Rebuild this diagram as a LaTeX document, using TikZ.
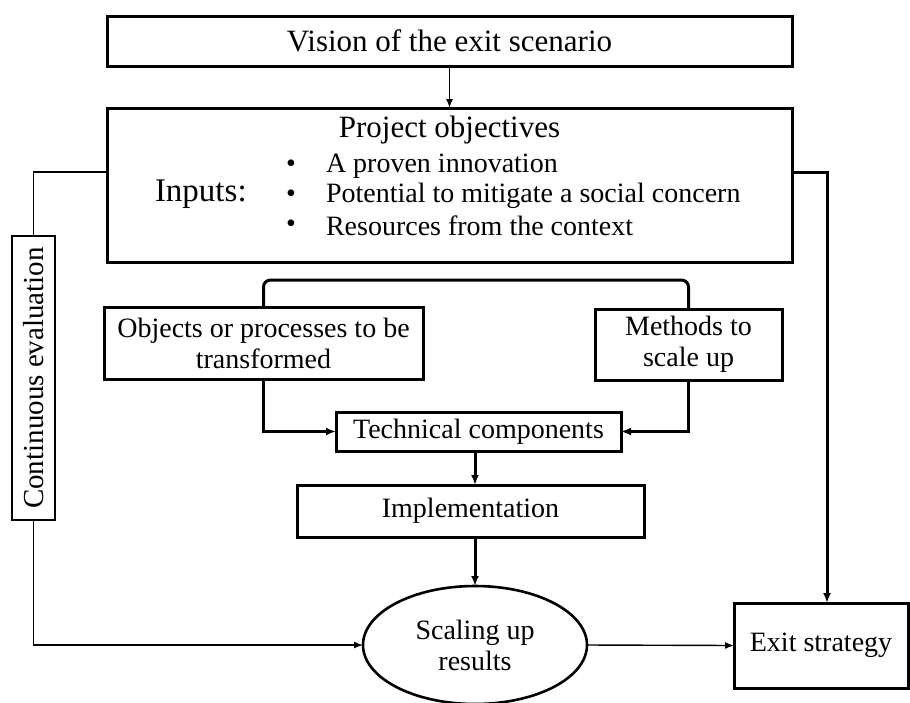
\documentclass[tikz,border=0pt]{standalone}
\usepackage{fontspec}
\setmainfont{Liberation Serif}
\usetikzlibrary{arrows.meta,shapes.geometric,calc}
\begin{document}
\begin{tikzpicture}[x=1pt,y=-1pt,
  every node/.style={font=\fontsize{28}{31}\selectfont, inner sep=0pt, outer sep=0pt},
  big/.style={font=\fontsize{31}{34}\selectfont},
  box/.style={draw, line width=3pt, rectangle, align=center},
  thinbox/.style={draw, line width=1.4pt, rectangle},
  thinln/.style={line width=1.4pt},
  thickln/.style={line width=3pt},
  tipthin/.style={-{Latex[length=9pt,width=7pt]}},
  tipthick/.style={-{Latex[length=10pt,width=8pt]}},
]
\useasboundingbox (0,0) rectangle (910,702);

% boxes
\node[box, big, minimum width=685, minimum height=50] (vision) at (449.5,41) {Vision of the exit scenario};
\node[box, minimum width=685, minimum height=154] (proj) at (449.5,185) {};
\node[big] (projtitle) at (449.5,130) {Project objectives};
\node[anchor=west, font=\fontsize{33}{36}\selectfont] (inputs) at (155,194) {Inputs:};
\node (b1) at (291,166) {\textbullet};
\node (b2) at (291,196) {\textbullet};
\node (b3) at (291,226) {\textbullet};
\node[anchor=west] (t1) at (326,166) {A proven innovation};
\node[anchor=west] (t2) at (326,196) {Potential to mitigate a social concern};
\node[anchor=west] (t3) at (326,226) {Resources from the context};

\node[thinbox, minimum width=43, minimum height=284] (eval) at (33.5,378) {};
\node[rotate=90, font=\fontsize{29}{32}\selectfont] (evaltext) at (eval.center) {Continuous evaluation};

\node[box, minimum width=319, minimum height=72] (obj) at (263.5,343) {Objects or processes to be\\transformed};
\node[box, minimum width=187, minimum height=71] (meth) at (688.5,344.5) {Methods to\\scale up};
\node[box, minimum width=285, minimum height=39] (tech) at (478.5,431.5) {Technical components};
\node[box, minimum width=347, minimum height=52] (impl) at (470.5,511) {Implementation};
\node[draw, ellipse, line width=2.6pt, minimum width=224, minimum height=118, align=center] (scal) at (475,645) {Scaling up\\results};
\node[box, minimum width=174, minimum height=85] (exit) at (821,645.5) {Exit strategy};

% bend points
\coordinate (lb) at (33.5,172);
\coordinate (rb) at (827,172);
\coordinate (bt) at (475,280);
\coordinate (axis) at (475,0);

% connectors
\draw[thinln, tipthin] (vision.south) -- (proj.north);
\draw[thinln] (proj.west |- lb) -- (lb) -- (eval.north);
\draw[thinln, tipthin] (eval.south) |- (scal.west);
\draw[thickln, tipthick] (proj.east |- rb) -- (rb) -- (rb |- exit.north);
\draw[thickln, rounded corners=7pt] (obj.north) |- (bt) -| (meth.north);
\draw[thickln, tipthick] (obj.south) |- (tech.west);
\draw[thickln, tipthick] (meth.south) |- (tech.east);
\draw[thickln, tipthick] (tech.south -| axis) -- (impl.north -| axis);
\draw[thickln, tipthick] (impl.south -| axis) -- (scal.north);
\draw[thinln, tipthin] (scal.east) -- (exit.west);
\end{tikzpicture}
\end{document}
